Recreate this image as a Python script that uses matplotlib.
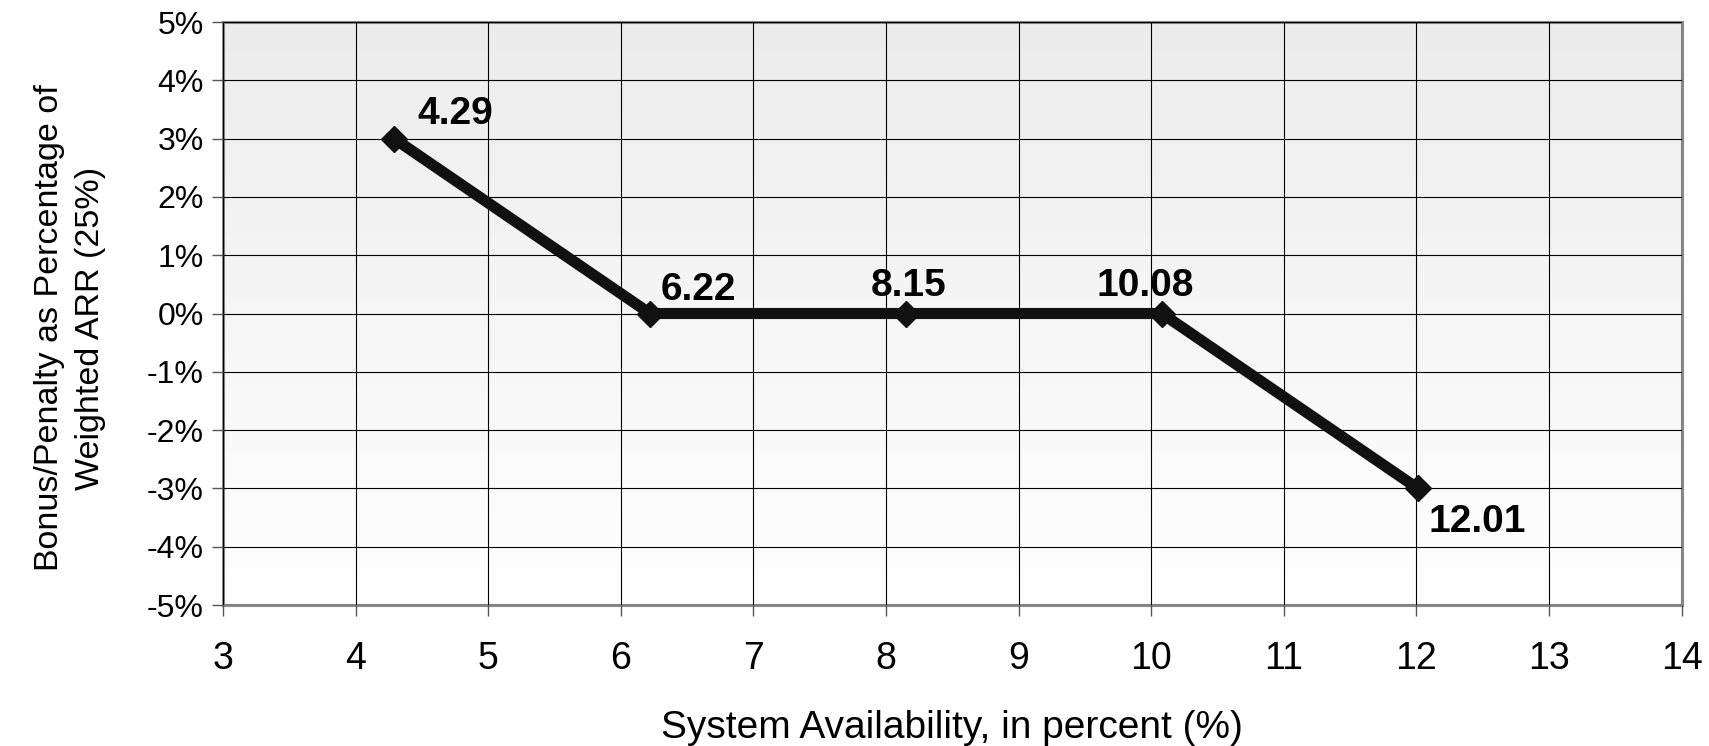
import numpy as np
import matplotlib
matplotlib.use("Agg")
import matplotlib.pyplot as plt
from matplotlib.ticker import FuncFormatter
from matplotlib.colors import LinearSegmentedColormap

plt.rcParams['font.family'] = ['Liberation Sans', 'DejaVu Sans']

# Data
availability = [4.29, 6.22, 8.15, 10.08, 12.01]
bonus_pct = [3, 0, 0, 0, -3]
point_labels = ["4.29", "6.22", "8.15", "10.08", "12.01"]
x_ticks = list(range(3, 15))
y_ticks = list(range(-5, 6))

fig = plt.figure(figsize=(17.09, 7.46), dpi=100)
ax = fig.add_axes([0.1305, 0.189, 0.984 - 0.1305, 0.9705 - 0.189])

# gradient background
grad = np.linspace(0, 1, 256).reshape(-1, 1)
cmap = LinearSegmentedColormap.from_list("bg", ["#ffffff", "#ececec"])
ax.imshow(grad, extent=[0, 1, 0, 1], transform=ax.transAxes, origin="lower",
          cmap=cmap, aspect="auto", zorder=0)

ax.set_xlim(3, 14)
ax.set_ylim(-5, 5)
ax.set_xticks(x_ticks)
ax.set_yticks(y_ticks)
ax.yaxis.set_major_formatter(FuncFormatter(lambda v, p: f"{int(v)}%"))
ax.grid(True, color="black", linewidth=0.8, zorder=1)
ax.set_axisbelow(False)

for s in ax.spines.values():
    s.set_color("#888888")
    s.set_linewidth(2.2)
    s.set_zorder(2)

ax.tick_params(axis="x", direction="out", length=8, width=1, color="#555555",
               labelsize=27, pad=18)
ax.tick_params(axis="y", direction="out", length=8, width=1, color="#555555",
               labelsize=23, pad=6)

ax.plot(availability, bonus_pct, color="#111111", linewidth=8, marker="D",
        markersize=13, zorder=3, solid_capstyle="butt")

offsets = [(17, 18), (8, 17), (2, 20), (-12, 20), (8, -24)]
aligns = ["left", "left", "center", "center", "left"]
for xv, yv, lab, off, ha in zip(availability, bonus_pct, point_labels, offsets, aligns):
    ax.annotate(lab, (xv, yv), xytext=off, textcoords="offset points",
                ha=ha, va="center", fontsize=28, fontweight="bold", zorder=4)

ax.set_xlabel("System Availability, in percent (%)", fontsize=28, labelpad=24)
ax.set_ylabel("Bonus/Penalty as Percentage of\nWeighted ARR (25%)", fontsize=24.5,
              linespacing=1.42)
ax.yaxis.set_label_coords(-0.080, 0.475)

fig.savefig("out.png", dpi=100)
